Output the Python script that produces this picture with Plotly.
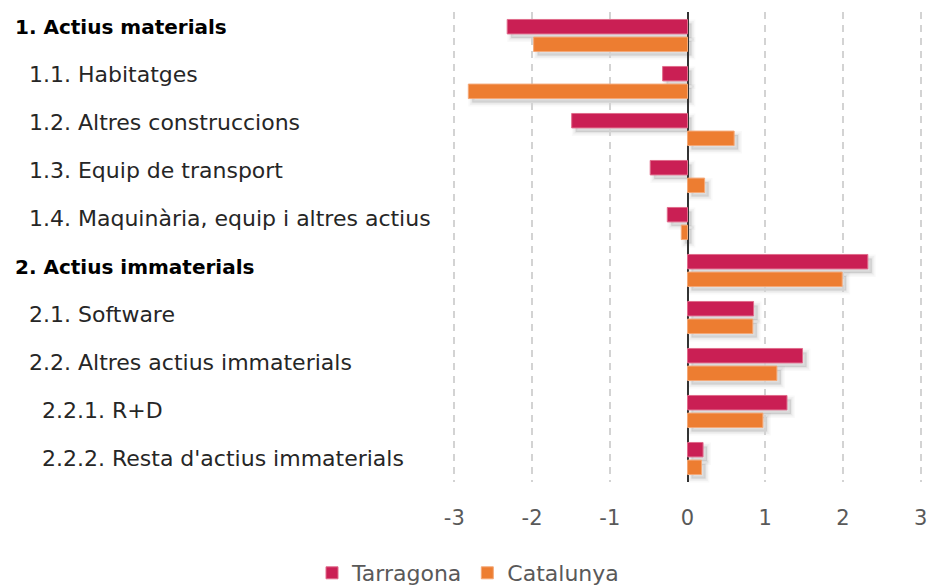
import plotly.graph_objects as go

categories = [
    "1. Actius materials",
    "1.1. Habitatges",
    "1.2. Altres construccions",
    "1.3. Equip de transport",
    "1.4. Maquinària, equip i altres actius",
    "2. Actius immaterials",
    "2.1. Software",
    "2.2. Altres actius immaterials",
    "2.2.1. R+D",
    "2.2.2. Resta d'actius immaterials",
]
levels = [0, 1, 1, 1, 1, 0, 1, 1, 2, 2]
tarragona = [-2.32, -0.32, -1.49, -0.48, -0.26, 2.32, 0.85, 1.48, 1.28, 0.20]
catalunya = [-1.98, -2.82, 0.60, 0.22, -0.08, 1.99, 0.84, 1.15, 0.97, 0.18]
xticks = [-3, -2, -1, 0, 1, 2, 3]

FONT = "DejaVu Sans"
TXT = "#595959"
C_T = "#CA1F54"
C_C = "#ED7D31"

W, H = 930, 586
PAD = 0.03
X0, X1 = 454, 921          # pixel positions of -3 and 3
UNIT = (X1 - X0) / 6.0
SH = 4                     # shadow offset in px
ML = X0 - PAD * UNIT
pw = (X1 - X0) + 2 * PAD * UNIT
MT = 12
ph = 470
MR = W - ML - pw - SH
MB = H - MT - ph - SH
PW_T = pw + SH
PH_T = ph + SH

fig = go.Figure()

# soft drop shadows (drawn on the lower subplot, shifted by SH px)
for grp, vals in (("T", tarragona), ("C", catalunya)):
    for lw, op in ((8, 0.025), (5, 0.035), (2, 0.045)):
        fig.add_trace(go.Bar(
            y=categories, x=vals, orientation="h", offsetgroup=grp,
            xaxis="x", yaxis="y", showlegend=False, hoverinfo="skip",
            marker=dict(color=f"rgba(0,0,0,{op})",
                        line=dict(color=f"rgba(0,0,0,{op})", width=lw)),
        ))

fig.add_trace(go.Bar(
    y=categories, x=tarragona, orientation="h", name="Tarragona", offsetgroup="T",
    xaxis="x2", yaxis="y2",
    marker=dict(color=C_T, line=dict(color="#E06C8C", width=1)),
))
fig.add_trace(go.Bar(
    y=categories, x=catalunya, orientation="h", name="Catalunya", offsetgroup="C",
    xaxis="x2", yaxis="y2",
    marker=dict(color=C_C, line=dict(color="#F4A877", width=1)),
))

indent_px = [12, 26, 39]
annotations = []
for i, (cat, lv) in enumerate(zip(categories, levels)):
    bold = lv == 0
    txt = f"<b>{cat}</b>" if bold else cat
    annotations.append(dict(
        x=-(ML - indent_px[lv]) / PW_T, xref="paper", xanchor="left",
        y=cat, yref="y2", yanchor="middle", yshift=9 - i,
        text=txt, showarrow=False,
        font=dict(family=FONT, size=20 if bold else 22,
                  color="#000000" if bold else "#262626"),
    ))

fig.update_layout(
    width=W, height=H,
    margin=dict(l=ML, r=MR, t=MT, b=MB),
    paper_bgcolor="white", plot_bgcolor="rgba(0,0,0,0)",
    barmode="group", bargap=0.25, bargroupgap=0.18,
    font=dict(family=FONT, size=20, color=TXT),
    showlegend=True,
    legend=dict(
        orientation="h", xref="container", yref="container",
        x=312 / W, xanchor="left", y=(586 - 573) / H, yanchor="middle",
        font=dict(family=FONT, size=22, color=TXT),
        itemwidth=30, tracegroupgap=0, itemclick=False,
    ),
    annotations=annotations,
)

common_x = dict(range=[-3 - PAD, 3 + PAD], automargin=False, showline=False, ticks="")
common_y = dict(categoryorder="array", categoryarray=categories, autorange="reversed",
                showticklabels=False, showgrid=False, zeroline=False,
                showline=False, ticks="", automargin=False)

fig.update_layout(
    xaxis=dict(**common_x, domain=[SH / PW_T, 1], anchor="y",
               showgrid=False, zeroline=False, showticklabels=False),
    yaxis=dict(**common_y, domain=[0, ph / PH_T], anchor="x"),
    xaxis2=dict(**common_x, domain=[0, pw / PW_T], anchor="y2",
                tickvals=xticks, ticktext=[str(v) for v in xticks],
                showgrid=True, gridcolor="#D3D3D3", gridwidth=2, griddash="7px,6px",
                zeroline=True, zerolinecolor="#333333", zerolinewidth=2,
                ticklabelstandoff=21, ticklabeloverflow="allow",
                tickfont=dict(family=FONT, size=21, color=TXT)),
    yaxis2=dict(**common_y, domain=[SH / PH_T, 1], anchor="x2"),
)

fig.write_html("out.html")
